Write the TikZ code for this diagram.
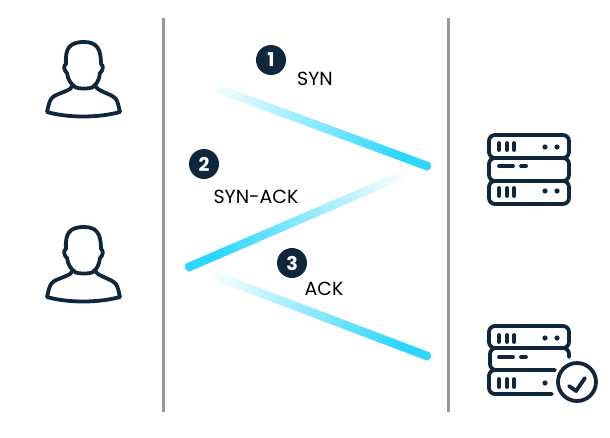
\documentclass[tikz,border=0pt]{standalone}
\usepackage{fontspec}
\usepackage{xcolor}
\setmainfont{Poppins}
\usetikzlibrary{calc}
\definecolor{navy}{HTML}{10263A}
\definecolor{cyanline}{HTML}{2ED6FF}
\definecolor{railgray}{HTML}{8F999F}
\newcommand{\fadeline}[2]{%
  \foreach \i in {0,...,59}
    \draw[cyanline!\fpeval{min(100,\i*100/52)}!white,line width=8.5pt]
      ($(#1)!\i/60!(#2)$) -- ($(#1)!{(\i+1.5)/60}!(#2)$);
  \fill[cyanline] (#2) circle (4.25pt);
}
\newcommand{\personicon}[1]{%
  \begin{scope}[shift={(#1)},icon]
    \draw (-17,-15) .. controls (-18,-30) and (-14,-37) .. (1,-37)
      .. controls (14,-37) and (18,-30) .. (18,-15)
      .. controls (21,-14) and (20,-8) .. (17,-6)
      .. controls (16,1) and (14,5) .. (10,8)
      .. controls (7,10) and (-5,10) .. (-8,8)
      .. controls (-12,5) and (-15,1) .. (-16,-6)
      .. controls (-19,-8) and (-20,-14) .. (-17,-15) -- cycle;
    \draw (-10,6) -- (-13,10) .. controls (-20,14) and (-30,16) .. (-32,20)
      .. controls (-34,23) and (-35,29) .. (-36,33)
      .. controls (-15,39) and (15,39) .. (37,33)
      .. controls (36,29) and (35,23) .. (33,20)
      .. controls (30,16) and (21,14) .. (15,10) -- (11,6);
  \end{scope}
}
\tikzset{
  icon/.style={navy,line width=3.8pt,line join=round,line cap=round},
  rail/.style={railgray,line width=3pt},
  badge/.style={circle,fill=navy,text=white,minimum size=30pt,inner sep=0pt,font=\fontsize{19}{19}\selectfont\bfseries},
  msg/.style={text=black,inner sep=0pt,font=\fontsize{19}{19}\selectfont},
}
\begin{document}
\begin{tikzpicture}[x=1pt,y=-1pt]
  \useasboundingbox (0,0) rectangle (610,437);

  \coordinate (leftTop) at (163,18);
  \coordinate (leftEnd) at (163,412);
  \coordinate (rightTop) at (448,18);
  \coordinate (rightEnd) at (448,412);
  \draw[rail] (leftTop) -- (leftEnd);
  \draw[rail] (rightTop) -- (rightEnd);

  \coordinate (synA) at (208,85);
  \coordinate (synB) at (427,166);
  \coordinate (ackA) at (410,172);
  \coordinate (ackB) at (189,267);
  \coordinate (lastA) at (208,273);
  \coordinate (lastB) at (427,356);
  \fadeline{synA}{synB}
  \fadeline{ackA}{ackB}
  \fadeline{lastA}{lastB}

  \node[badge] (one) at (271,60) {1};
  \node[badge] (two) at (204,164) {2};
  \node[badge] (three) at (292,263) {3};
  \node[msg] (syn) at (315,79) {SYN};
  \node[msg] (synack) at (256,197) {SYN-ACK};
  \node[msg] (ack) at (324,289) {ACK};

  \personicon{83,79}
  \personicon{83,264}

  \begin{scope}[icon]
    \draw[rounded corners=6pt] (489,135) rectangle (569,158);
    \draw[rounded corners=6pt] (489,158) rectangle (569,181);
    \draw[rounded corners=6pt] (489,181) rectangle (569,204);
    \foreach \x in {499,507,514} {
      \draw (\x,143) -- (\x,150);
      \draw (\x,188) -- (\x,196);
    }
    \draw (499,166) -- (513,166);
    \draw (521,166) -- (526,166);
    \foreach \x in {545,557} {
      \fill (\x,147) circle (2.6pt);
      \fill (\x,191) circle (2.6pt);
    }

    \draw[rounded corners=6pt] (489,326) rectangle (569,348);
    \draw[rounded corners=6pt] (569,357) -- (569,348) -- (490,348) -- (490,370) -- (555,370);
    \draw[rounded corners=6pt] (552,394) -- (489,394) -- (489,370) -- (500,370);
    \foreach \x in {499,507,514} {
      \draw (\x,335) -- (\x,342);
      \draw (\x,379) -- (\x,387);
    }
    \draw (499,357) -- (513,357);
    \draw (521,357) -- (526,357);
    \fill (545,338) circle (2.6pt);
    \fill (557,338) circle (2.6pt);
    \fill (545,383) circle (2.6pt);
    \draw[fill=white] (577,382) circle (19pt);
    \draw (569,386) -- (576,391) -- (585,378);
  \end{scope}
\end{tikzpicture}
\end{document}
